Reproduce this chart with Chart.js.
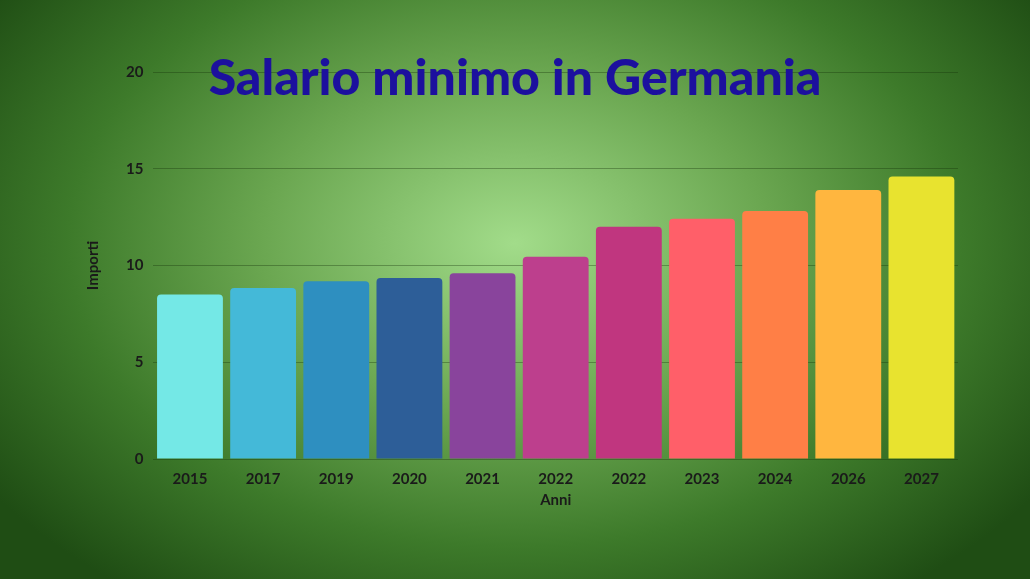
<!DOCTYPE html>
<html>
<head>
<meta charset="utf-8">
<script src="https://cdn.jsdelivr.net/npm/chart.js@4"></script>
<style>
  html, body { margin: 0; padding: 0; }
  body {
    width: 1030px; height: 579px; overflow: hidden; position: relative;
    background: radial-gradient(ellipse 62% 75% at 50% 42%, #a2dc8a 0%, #6aa650 40%, #3d7a2a 70%, #1f4d14 100%);
  }
  #title {
    position: absolute; left: 0; width: 1030px; top: 46px; text-align: center;
    font-family: "Lato", sans-serif; font-weight: 900; font-size: 50px; color: #1c109e;
    line-height: 60px;
  }
  #wrap { position: absolute; left: 0; top: 0; width: 1030px; height: 579px; }
</style>
</head>
<body>
<div id="wrap"><canvas id="salaryChart" width="1030" height="579"></canvas></div>
<div id="title">Salario minimo in Germania</div>
<script>
// Data
const years = ["2015", "2017", "2019", "2020", "2021", "2022", "2022", "2023", "2024", "2026", "2027"];
const amounts = [8.5, 8.84, 9.19, 9.35, 9.6, 10.45, 12.0, 12.41, 12.82, 13.9, 14.6];
const barColors = ["#74e8e6", "#44b9d8", "#2e8fc0", "#2d5e98", "#89449c", "#bd3f8d", "#c0367f",
  "#ff5f69", "#ff7f46", "#ffb63f", "#e8e32f"];
const yTicks = [0, 5, 10, 15, 20];

const ctx = document.getElementById("salaryChart").getContext("2d");

new Chart(ctx, {
  type: "bar",
  data: {
    labels: years,
    datasets: [
      {
        label: "Importi",
        data: amounts,
        backgroundColor: barColors,
        borderRadius: 4,
        borderSkipped: "bottom",
        barPercentage: 0.9,
        categoryPercentage: 1,
      },
    ],
  },
  options: {
    responsive: false,
    animation: false,
    layout: { padding: { left: 70, right: 72, top: 72, bottom: 70 } },
    plugins: { legend: { display: false }, tooltip: { enabled: false } },
    scales: {
      x: {
        grid: { display: false },
        border: { display: false },
        ticks: { color: "#1a1a1a", font: { family: "Lato", weight: "bold", size: 15 } },
        title: { display: true, text: "Anni", color: "#1a1a1a", padding: 0,
          font: { family: "Lato", weight: "bold", size: 15 } },
      },
      y: {
        min: 0,
        max: 20,
        afterBuildTicks: (axis) => { axis.ticks = yTicks.map((v) => ({ value: v })); },
        grid: { color: "rgba(20,50,10,0.35)", lineWidth: 1, drawTicks: false },
        border: { display: false },
        ticks: { color: "#1a1a1a", padding: 10, font: { family: "Lato", weight: "bold", size: 15 } },
        title: { display: true, text: "Importi", color: "#1a1a1a", padding: 14,
          font: { family: "Lato", weight: "bold", size: 15 } },
      },
    },
  },
});
</script>
</body>
</html>
